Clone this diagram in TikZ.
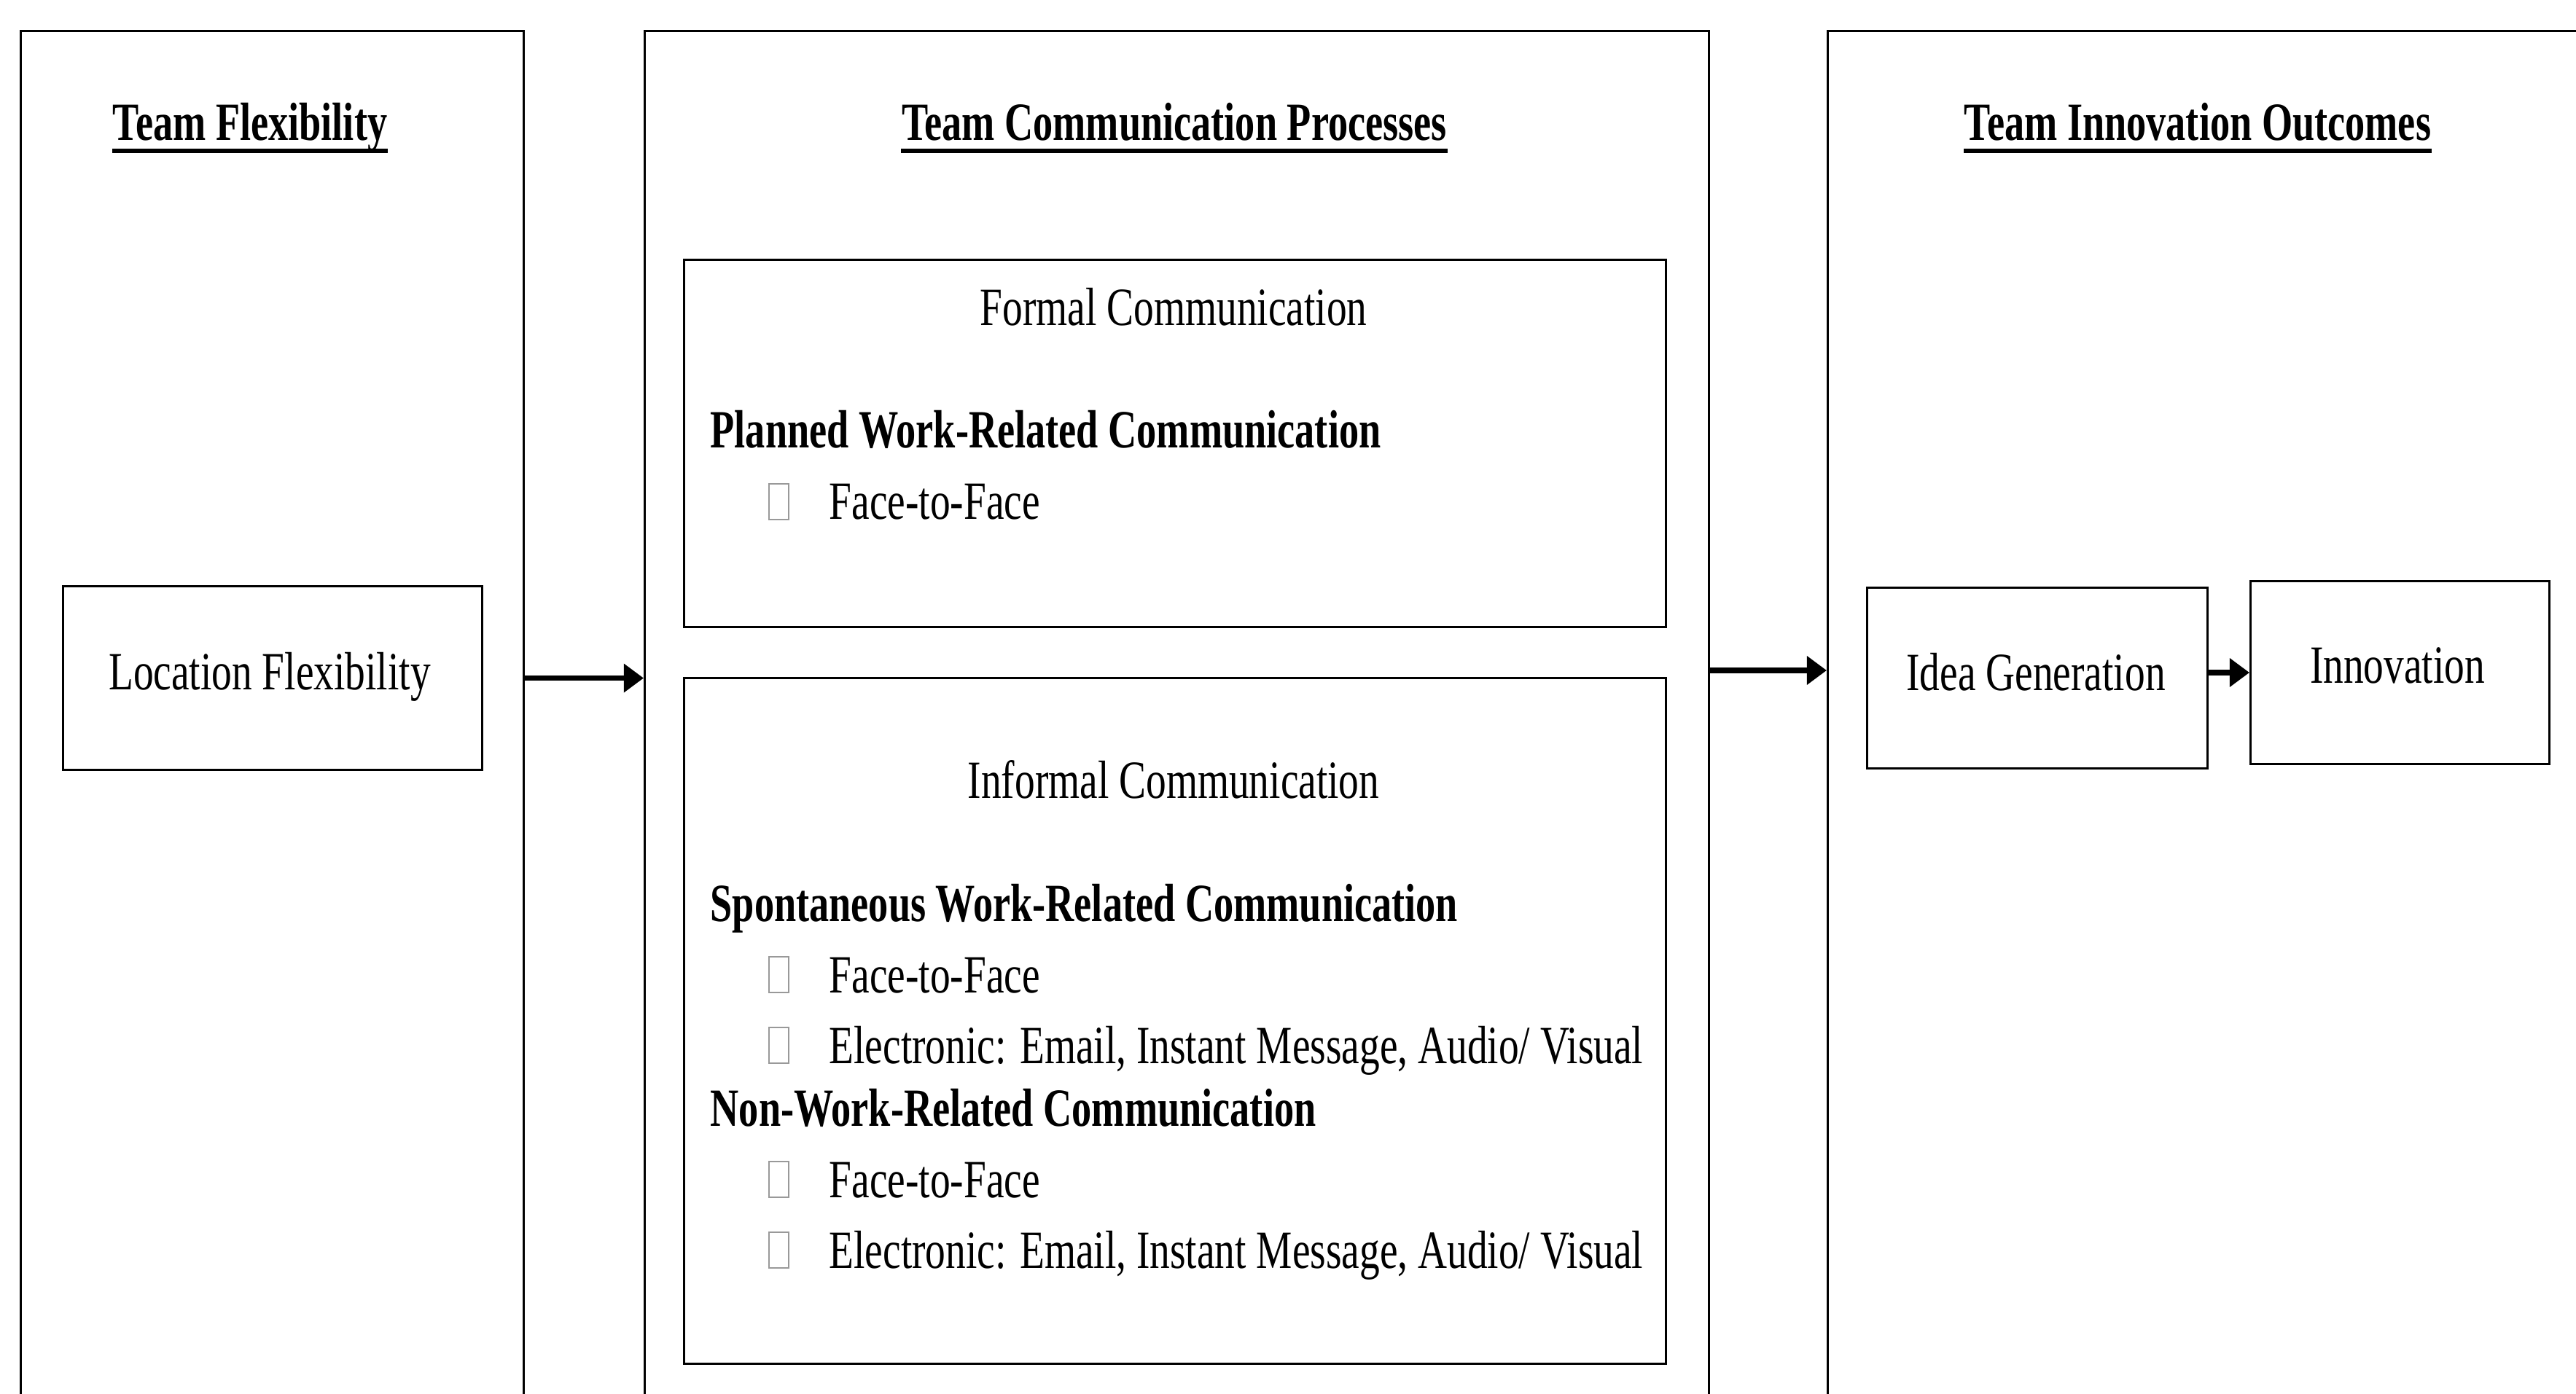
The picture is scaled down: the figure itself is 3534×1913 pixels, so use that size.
\documentclass[tikz,border=0pt]{standalone}
\usepackage{fontspec}
\setmainfont{Liberation Serif}[FakeStretch=0.75,BoldFeatures={FakeStretch=0.735}]
\usetikzlibrary{arrows.meta}
\newcommand\bigf{\fontsize{21}{25}\selectfont}
\tikzset{
  box/.style={draw, line width=0.85pt, inner sep=0pt, anchor=north west},
  lbl/.style={inner sep=0pt, anchor=base, font=\bigf},
  lbll/.style={inner sep=0pt, anchor=base west, font=\bigf},
  boldl/.style={inner sep=0pt, anchor=base west, font=\bigf\bfseries},
  head/.style={inner sep=0pt, anchor=base, font=\bigf\bfseries},
  uline/.style={line width=1.5pt},
  arr/.style={line width=2pt, -{Triangle[length=7.7pt,width=10.8pt]}},
  tofu/.style={draw=black!40, line width=0.6pt}
}
\begin{document}
\begin{tikzpicture}[x=0.01cm,y=-0.01cm]
\useasboundingbox (0,0) rectangle (3534,1913);
\clip (0,0) rectangle (3534,1913);
% columns
\node[box, minimum width=6.90cm, minimum height=20cm] (colL) at (27,41) {};
\node[box, minimum width=14.59cm, minimum height=20cm] (colM) at (883,41) {};
\node[box, minimum width=11.00cm, minimum height=20cm] (colR) at (2506,41) {};
% headings
\node[head] (h1) at (343,193) {Team Flexibility};
\node[head] (h2) at (1611,193) {Team Communication Processes};
\node[head] (h3) at (3015,193) {Team Innovation Outcomes};
\foreach \h in {h1,h2,h3}{
  \draw[uline] ([yshift=-0.14cm]\h.base west) -- ([yshift=-0.14cm]\h.base east);
}
% inner boxes
\node[box, minimum width=5.75cm, minimum height=2.52cm] (loc) at (85,803) {};
\node[box, minimum width=13.46cm, minimum height=5.04cm] (formal) at (937,355) {};
\node[box, minimum width=13.46cm, minimum height=9.40cm] (informal) at (937,929) {};
\node[box, minimum width=4.67cm, minimum height=2.48cm] (idea) at (2560,805) {};
\node[box, minimum width=4.10cm, minimum height=2.51cm] (innov) at (3086,796) {};
% box labels
\node[lbl] (tloc) at (370,946) {Location Flexibility};
\node[lbl] (tidea) at (2793,947) {Idea Generation};
\node[lbl] (tinnov) at (3289,937) {Innovation};
% formal communication
\node[lbl] (tformal) at (1610,447) {Formal Communication};
\node[boldl] (tplanned) at (974,615) {Planned Work-Related Communication};
\node[lbll] (f1) at (1137,713) {Face-to-Face};
% informal communication
\node[lbl] (tinformal) at (1610,1095) {Informal Communication};
\node[boldl] (tspont) at (974,1264) {Spontaneous Work-Related Communication};
\node[lbll] (f2) at (1137,1362) {Face-to-Face};
\node[lbll] (e2) at (1137,1459) {Electronic: Email, Instant Message, Audio/ Visual};
\node[boldl] (tnonwork) at (974,1545) {Non-Work-Related Communication};
\node[lbll] (f3) at (1137,1643) {Face-to-Face};
\node[lbll] (e3) at (1137,1740) {Electronic: Email, Instant Message, Audio/ Visual};
% bullet boxes
\foreach \b in {f1,f2,e2,f3,e3}{
  \draw[tofu] ([xshift=-0.82cm]\b.base west) rectangle ([xshift=-0.55cm,yshift=0.49cm]\b.base west);
}
% arrows
\coordinate (a2) at (2342,920);
\coordinate (a3) at (3030,923);
\draw[arr] (colL.east |- loc.center) -- (colM.west |- loc.center);
\draw[arr] (colM.east |- a2) -- (colR.west |- a2);
\draw[arr] (idea.east |- a3) -- (innov.west |- a3);
\end{tikzpicture}
\end{document}
